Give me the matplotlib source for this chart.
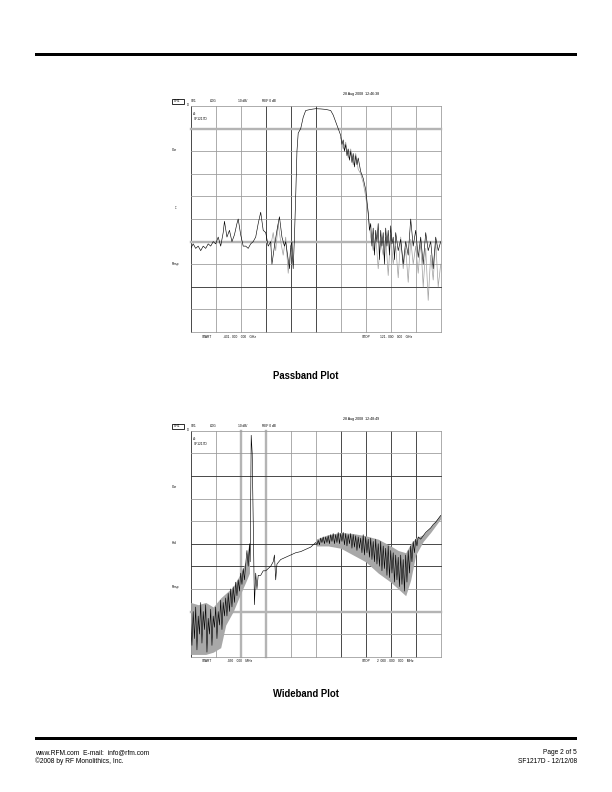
import matplotlib
matplotlib.use('Agg')
import matplotlib.pyplot as plt
from matplotlib.patches import Rectangle

plt.rcParams['font.family'] = ['Liberation Sans', 'DejaVu Sans']

# ---------------- data ----------------
# Passband plot: x in screen divisions (0..10), y in dB (ref 0 dB at top, 10 dB/div)
pass_x = [0.00, 0.10, 0.20, 0.30, 0.40, 0.50, 0.60, 0.70, 0.80, 0.90, 1.00, 1.10, 1.20, 1.30, 1.35,
          1.45, 1.55, 1.65, 1.75, 1.85, 1.90, 2.00, 2.10, 2.20, 2.30, 2.40, 2.50, 2.60, 2.70, 2.80,
          2.90, 3.00, 3.10, 3.20, 3.25, 3.35, 3.45, 3.55, 3.65, 3.75, 3.80, 3.90, 3.95, 4.00, 4.05,
          4.10, 4.15, 4.20, 4.25, 4.30, 4.40, 4.50, 4.60, 4.80, 5.00, 5.20, 5.40, 5.60, 5.70, 5.80,
          5.90, 6.00, 6.05, 6.10, 6.15, 6.20, 6.25, 6.30, 6.35, 6.40, 6.45, 6.50, 6.55, 6.60, 6.65,
          6.70, 6.80, 6.90, 7.00, 7.05, 7.10, 7.15, 7.20, 7.25, 7.30, 7.35, 7.40, 7.45, 7.50, 7.55,
          7.60, 7.65, 7.70, 7.75, 7.80, 7.85, 7.90, 7.95, 8.00, 8.05, 8.10, 8.15, 8.20, 8.30, 8.40,
          8.50, 8.60, 8.70, 8.80, 8.90, 9.00, 9.10, 9.20, 9.30, 9.40, 9.50, 9.60, 9.70, 9.80, 9.90, 10.00]
pass_db = [-63, -61, -63, -62, -64, -62, -63, -61, -62, -60, -61, -58, -62, -56, -51,
           -58, -55, -60, -57, -52, -50, -57, -62, -62, -63, -61, -60, -58, -52, -47,
           -55, -56, -62, -60, -70, -62, -55, -49, -58, -62, -60, -68, -72, -62, -60,
           -72, -58, -40, -20, -12, -10, -5, -2, -1.5, -1.2, -1.3, -1.5, -2, -4, -7,
           -10, -13, -17, -15, -20, -17, -22, -19, -24, -20, -25, -21, -27, -22, -26,
           -23, -29, -32, -37, -42, -47, -55, -52, -62, -54, -66, -55, -60, -52, -68,
           -55, -62, -56, -70, -54, -62, -55, -66, -53, -61, -58, -68, -56, -64, -59,
           -70, -60, -66, -50, -62, -55, -67, -58, -70, -56, -64, -60, -72, -58, -64, -60]

# Second (grey) sweep overlaid: near the lower skirt and over the stop-band
pass2a_x = [3.20, 3.30, 3.40, 3.50, 3.60, 3.70, 3.80, 3.90, 4.00, 4.10]
pass2a_db = [-62, -56, -64, -52, -60, -66, -58, -74, -63, -70]
pass2b_x = [6.00, 6.10, 6.20, 6.30, 6.40, 6.50, 6.60, 6.70, 6.80, 6.90, 7.00, 7.10, 7.20, 7.30,
            7.40, 7.50, 7.60, 7.70, 7.80, 7.90, 8.00, 8.10, 8.20, 8.30, 8.40, 8.50, 8.60, 8.70,
            8.80, 8.90, 9.00, 9.10, 9.20, 9.30, 9.40, 9.50, 9.60, 9.70, 9.80, 9.90, 10.00]
pass2b_db = [-14, -19, -16, -23, -19, -26, -21, -28, -30, -34, -40, -48, -58, -64,
             -57, -72, -60, -66, -58, -75, -57, -70, -62, -76, -58, -72, -63, -78, -59, -70,
             -62, -74, -60, -80, -63, -86, -66, -77, -60, -80, -70]

# Wideband plot
wide_x = [0.00, 0.05, 0.10, 0.15, 0.20, 0.25, 0.30, 0.35, 0.40, 0.45, 0.50, 0.55, 0.60, 0.65,
          0.70, 0.75, 0.80, 0.85, 0.90, 0.95, 1.00, 1.05, 1.10, 1.15, 1.20, 1.25, 1.30, 1.35,
          1.40, 1.45, 1.50, 1.55, 1.60, 1.65, 1.70, 1.75, 1.80, 1.85, 1.90, 1.95, 2.00, 2.05,
          2.10, 2.15, 2.20, 2.25, 2.30, 2.35, 2.38, 2.42,
          2.46, 2.50, 2.55, 2.60, 2.65, 2.70, 2.80, 2.90, 3.00, 3.10, 3.20, 3.30, 3.35, 3.40,
          3.45, 3.60, 3.80, 4.00, 4.20, 4.40, 4.60, 4.80,
          5.00, 5.05, 5.10, 5.15, 5.20, 5.25, 5.30, 5.35, 5.40, 5.45, 5.50, 5.55, 5.60, 5.65,
          5.70, 5.75, 5.80, 5.85, 5.90, 5.95, 6.00, 6.05, 6.10, 6.15, 6.20, 6.25, 6.30, 6.35,
          6.40, 6.45, 6.50, 6.55, 6.60, 6.65, 6.70, 6.75, 6.80, 6.85, 6.90, 6.95, 7.00, 7.05,
          7.10, 7.15, 7.20, 7.25, 7.30, 7.35, 7.40, 7.45, 7.50, 7.55, 7.60, 7.65, 7.70, 7.75,
          7.80, 7.85, 7.90, 7.95, 8.00, 8.05, 8.10, 8.15, 8.20, 8.25, 8.30, 8.35, 8.40, 8.45,
          8.50, 8.55, 8.60, 8.65, 8.70, 8.75, 8.80, 8.85, 8.90, 8.95, 9.00, 9.05, 9.10, 9.20,
          9.30, 9.40, 9.50, 9.60, 9.70, 9.80, 9.90, 10.00]
wide_db = [-85, -95, -80, -92, -78, -97, -82, -90, -76, -94, -80, -88, -77, -98,
           -83, -90, -79, -95, -82, -87, -78, -92, -80, -86, -75, -88, -76, -82,
           -74, -82, -72, -80, -70, -78, -69, -76, -67, -73, -66, -71, -63, -68,
           -61, -66, -59, -53, -60, -50, -58, -2,
           -10, -40, -77, -63, -70, -64, -64, -62, -62, -61, -60, -58, -55, -66,
           -59, -57, -56, -55, -54, -53.5, -52.5, -51.5,
           -49.5, -50.5, -48.5, -50.5, -47.5, -49.5, -47, -50, -47, -49.5, -46.5, -50, -46, -49,
           -45.5, -50, -46, -49.5, -45, -50, -45.5, -49, -45, -50.5, -45.5, -51, -46, -50,
           -45.5, -52, -46, -51.5, -46.5, -53, -47, -52, -47.5, -54, -46, -55, -47, -54,
           -48, -56, -47.5, -57, -49, -58, -48, -59, -50, -60, -49, -62, -51, -61,
           -52, -64, -51, -65, -53, -63, -54, -67, -55, -66, -56, -69, -55, -68,
           -57, -71, -55, -67, -53, -63, -51, -58, -49, -54, -48, -51, -47, -48,
           -46.5, -45, -44, -43, -41.5, -40.5, -39, -37.5]

# Grey envelope of overlaid sweeps (wideband), two stretches
env1_x = [0.0, 0.3, 0.6, 0.9, 1.2, 1.4, 1.7, 2.0, 2.2, 2.35]
env1_hi = [-76, -77, -76, -78, -74, -72, -69, -63, -58, -50]
env1_lo = [-99, -99, -99, -98, -96, -86, -80, -72, -67, -63]
env2_x = [5.0, 5.5, 6.0, 6.5, 7.0, 7.5, 8.0, 8.3, 8.6, 8.8, 9.0, 9.3, 9.6, 10.0]
env2_hi = [-48, -46, -45, -45.5, -46.5, -48, -51, -53, -54, -50, -47.5, -46, -42.5, -37]
env2_lo = [-51, -51, -52, -55, -58, -63, -67, -70, -73, -66, -55, -49, -45, -39]

# ---------------- layout helpers ----------------
W, H = 612, 792
fig = plt.figure(figsize=(W / 72, H / 72), dpi=72)


def fx(x):
    return x / W


def fy(y):
    return 1 - y / H


def ftext(x, y, s, **kw):
    fig.text(fx(x), fy(y), s, **kw)


STY = {'d': ('#3a3a3a', 0.9), 'g': ('#9a9a9a', 0.8), 't': ('#b4b4b4', 2.4)}


def make_ax(left, top, right, bottom, vsty, hsty):
    ax = fig.add_axes([fx(left), fy(bottom), (right - left) / W, (bottom - top) / H])
    ax.set_xlim(0, 10)
    ax.set_ylim(-100, 0)
    ax.set_xticks([])
    ax.set_yticks([])
    for s in ax.spines.values():
        s.set_visible(False)
    ax.patch.set_alpha(0)
    for i, c in enumerate(vsty):
        col, lw = STY[c]
        ax.axvline(i, color=col, lw=lw, zorder=1, clip_on=False)
    for i, c in enumerate(hsty):
        col, lw = STY[c]
        ax.axhline(-10 * i, color=col, lw=lw, zorder=1, clip_on=False)
    return ax


def header(top, date):
    ftext(343, top - 12, date, fontsize=3.6, va='center')
    fig.add_artist(Rectangle((fx(172), fy(top - 2)), 12 / W, 5 / H,
                             transform=fig.transFigure, fill=False, lw=0.8, ec='black'))
    ftext(173.5, top - 4.5, 'CH1', fontsize=3.2, va='center')
    ftext(187, top - 1, 'D', fontsize=2.8, va='center')
    ftext(191, top - 4.5, 'S21', fontsize=3.2, va='center')
    ftext(210, top - 4.5, 'LOG', fontsize=3.2, va='center')
    ftext(238, top - 4.5, '10 dB/', fontsize=3.2, va='center')
    ftext(262, top - 4.5, 'REF 0 dB', fontsize=3.2, va='center')
    ftext(193, top + 8, 'Δr', fontsize=3.2, va='center')
    ftext(194, top + 13, 'SF1217D', fontsize=3.2, va='center')


# ---------------- page frame ----------------
fig.add_artist(Rectangle((fx(35), fy(56)), 542 / W, 3 / H, transform=fig.transFigure,
                         color='black', lw=0))
fig.add_artist(Rectangle((fx(35), fy(739.5)), 542 / W, 3 / H, transform=fig.transFigure,
                         color='black', lw=0))

# ---------------- passband plot ----------------
T1, B1 = 106, 332
ax1 = make_ax(190.7, T1, 440.7, B1, 'dggdddggggg', 'gtggggtgdgg')
ax1.plot(pass2a_x, pass2a_db, color='#a0a0a0', lw=0.7, zorder=2)
ax1.plot(pass2b_x, pass2b_db, color='#a0a0a0', lw=0.7, zorder=2)
ax1.plot(pass_x, pass_db, color='black', lw=0.6, zorder=3)
header(T1, '28 Aug 2008  12:46:38')
ftext(172, 150, 'Cor', fontsize=3.2, va='center')
ftext(175, 208, '‡', fontsize=3.2, va='center')
ftext(172, 264, 'Resp', fontsize=3.2, va='center')
ftext(202, 337, 'START', fontsize=3.2, va='center')
ftext(223, 337, '.431 . 000    000    GHz', fontsize=3.2, va='center')
ftext(362, 337, 'STOP', fontsize=3.2, va='center')
ftext(380, 337, '121 . 000    000    GHz', fontsize=3.2, va='center')
ftext(306, 376, 'Passband Plot', fontsize=9.5, fontweight='bold', ha='center', va='center')

# ---------------- wideband plot ----------------
T2, B2 = 430.7, 656.7
ax2 = make_ax(190.7, T2, 440.7, B2, 'dgttggddddg', 'ggdggddgtgg')
ax2.fill_between(env1_x, env1_hi, env1_lo, color='#a8a8a8', lw=0, zorder=2)
ax2.fill_between(env2_x, env2_hi, env2_lo, color='#a8a8a8', lw=0, zorder=2)
ax2.plot(wide_x, wide_db, color='black', lw=0.6, zorder=3)
header(T2, '28 Aug 2008  12:48:49')
ftext(172, 487, 'Cor', fontsize=3.2, va='center')
ftext(172, 543, 'Hld', fontsize=3.2, va='center')
ftext(172, 587, 'Resp', fontsize=3.2, va='center')
ftext(202, 661, 'START', fontsize=3.2, va='center')
ftext(227, 661, '.030    000    MHz', fontsize=3.2, va='center')
ftext(362, 661, 'STOP', fontsize=3.2, va='center')
ftext(377, 661, '2  000  . 000    000    MHz', fontsize=3.2, va='center')
ftext(306, 694, 'Wideband Plot', fontsize=9.5, fontweight='bold', ha='center', va='center')

# ---------------- footer ----------------
ftext(35, 752.5, 'www.RFM.com  E-mail:  info@rfm.com', fontsize=6.6, va='center')
ftext(35, 761.5, '©2008 by RF Monolithics, Inc.', fontsize=6.6, va='center')
ftext(577, 752.5, 'Page 2 of 5', fontsize=6.6, va='center', ha='right')
ftext(577, 761.5, 'SF1217D - 12/12/08', fontsize=6.6, va='center', ha='right')

fig.savefig('out.png', dpi=72)
